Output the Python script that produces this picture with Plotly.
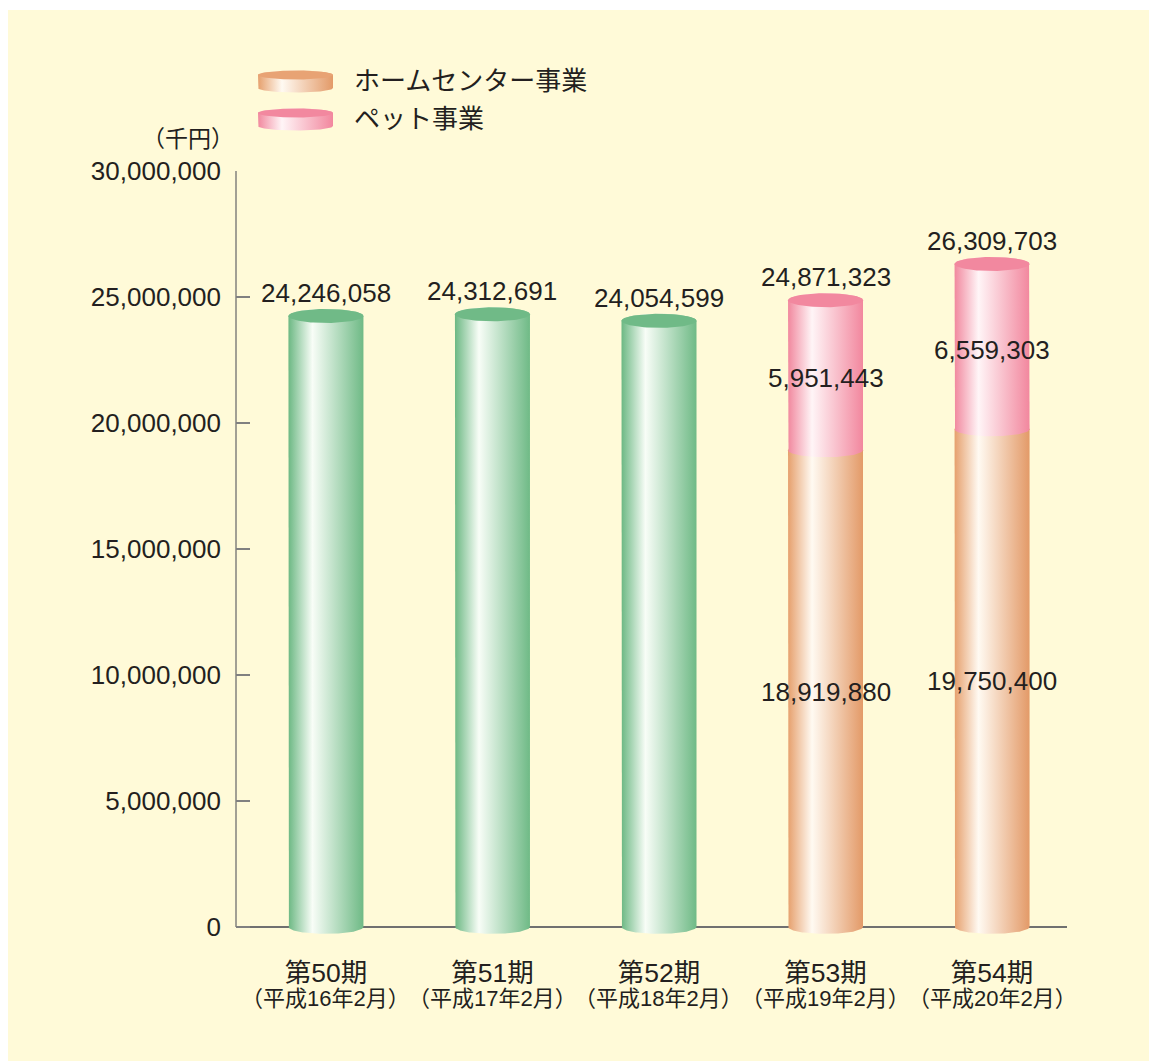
import numpy as np
import plotly.graph_objects as go

# ---------------- data ----------------
periods = ["第50期", "第51期", "第52期", "第53期", "第54期"]
eras = ["（平成16年2月）", "（平成17年2月）", "（平成18年2月）", "（平成19年2月）", "（平成20年2月）"]
total_sales = [24246058, 24312691, 24054599, 24871323, 26309703]
home_center = [None, None, None, 18919880, 19750400]
pet = [None, None, None, 5951443, 6559303]
legend_names = ["ホームセンター事業", "ペット事業"]
y_tick_values = [0, 5000000, 10000000, 15000000, 20000000, 25000000, 30000000]
unit_label = "（千円）"

# ---------------- style ----------------
W, H = 1149, 1061
ML, MR, MT, MB = 236, 82, 10, 119
PLOT_W = W - ML - MR
PLOT_H = H - MT - MB
MAIN_H = 771
Y_MIN, Y_MAX = -600000, 30000000
X_MIN, X_MAX = -0.54, 4.45
px_per_x = PLOT_W / (X_MAX - X_MIN)
px_per_y = MAIN_H / (Y_MAX - Y_MIN)
A = 37.5 / px_per_x          # half bar width (x units)
B = 7.0 / px_per_y           # ellipse half-height (y units)

FONT = "Liberation Sans, Noto Sans CJK JP, sans-serif"
TXT = "#231f20"
BG = "#fffad8"
NUM_SIZE = 26

GREEN = ("#6cb883", "#f8fdf7", "#6fba86")
ORANGE = ("#e6a06d", "#fffaf2", "#e39a68")
PINK = ("#f1889e", "#fff5f7", "#f2879e")
CAP = {"green": "#70ba87", "pink": "#f2889f"}


def grad(c):
    return [[0, c[0]], [0.32, c[1]], [1, c[2]]]


def body(c, y0, y1, a, b, n=60):
    t1 = np.linspace(np.pi, 2 * np.pi, n)
    t2 = np.linspace(0, np.pi, n)
    xs = [c - a] + list(c + a * np.cos(t1)) + [c + a] + list(c + a * np.cos(t2))
    ys = [y1] + list(y0 + b * np.sin(t1)) + [y1] + list(y1 + b * np.sin(t2))
    return xs, ys


def ellipse(c, y, a, b, n=80):
    t = np.linspace(0, 2 * np.pi, n)
    return list(c + a * np.cos(t)), list(y + b * np.sin(t))


fig = go.Figure()


def add_body(c, y0, y1, a, b, colors, xa="x", ya="y"):
    xs, ys = body(c, y0, y1, a, b)
    fig.add_trace(go.Scatter(
        x=xs, y=ys, mode="lines", line=dict(width=0), fill="toself",
        fillgradient=dict(type="horizontal", colorscale=grad(colors), start=c - a, stop=c + a),
        hoverinfo="skip", showlegend=False, xaxis=xa, yaxis=ya))


def add_cap(c, y, a, b, color, xa="x", ya="y"):
    xs, ys = ellipse(c, y, a, b)
    fig.add_trace(go.Scatter(
        x=xs, y=ys, mode="lines", line=dict(width=0), fill="toself", fillcolor=color,
        hoverinfo="skip", showlegend=False, xaxis=xa, yaxis=ya))


annotations = []
for i in range(len(periods)):
    if home_center[i] is None:
        add_body(i, 0, total_sales[i], A, B, GREEN)
        add_cap(i, total_sales[i], A, B, CAP["green"])
    else:
        hc = home_center[i]
        top = hc + pet[i]
        add_body(i, 0, hc, A, B, ORANGE)
        add_body(i, hc, top, A, B, PINK)
        add_cap(i, top, A, B, CAP["pink"])
        annotations.append(dict(x=i, y=hc / 2, xref="x", yref="y", text=f"{hc:,}",
                                showarrow=False, yshift=-3,
                                font=dict(size=NUM_SIZE, color=TXT, family=FONT)))
        annotations.append(dict(x=i, y=hc + pet[i] / 2, xref="x", yref="y", text=f"{pet[i]:,}",
                                showarrow=False, yshift=-3,
                                font=dict(size=NUM_SIZE, color=TXT, family=FONT)))
    annotations.append(dict(x=i, y=total_sales[i], xref="x", yref="y", text=f"{total_sales[i]:,}",
                            showarrow=False, yshift=23, yanchor="middle",
                            font=dict(size=NUM_SIZE, color=TXT, family=FONT)))
    annotations.append(dict(x=i, y=0, xref="x", yref="paper", text=eras[i], showarrow=False,
                            yshift=-(998 - (MT + PLOT_H)), yanchor="middle",
                            font=dict(size=22, color=TXT, family=FONT)))

# ---------------- legend (drawn in pixel-unit overlay axes) ----------------
leg_top_px, leg_bot_px = 60, 140
y2_dom = [(MT + PLOT_H - leg_bot_px) / PLOT_H, (MT + PLOT_H - leg_top_px) / PLOT_H]
leg_colors = [ORANGE, PINK]
leg_caps = ["#e8a374", "#f2889f"]
leg_rows = [(75, 88, 81), (113, 126, 119)]
for k, name in enumerate(legend_names):
    ytop, ybot, ytext = leg_rows[k]
    cx, ax, bx = 295.5, 37.5, 4.5
    xs, ys = body(cx, -ybot, -ytop, ax, bx)
    fig.add_trace(go.Scatter(
        x=xs, y=ys, mode="lines", line=dict(width=0), fill="toself",
        fillgradient=dict(type="horizontal", colorscale=grad(leg_colors[k]), start=cx - ax, stop=cx + ax),
        hoverinfo="skip", showlegend=False, xaxis="x2", yaxis="y2"))
    xs, ys = ellipse(cx, -ytop, ax, bx)
    fig.add_trace(go.Scatter(
        x=xs, y=ys, mode="lines", line=dict(width=0), fill="toself", fillcolor=leg_caps[k],
        hoverinfo="skip", showlegend=False, xaxis="x2", yaxis="y2"))
    annotations.append(dict(x=352, y=-ytext, xref="x2", yref="y2", text=name, showarrow=False,
                            xanchor="left", yanchor="middle",
                            font=dict(size=26, color=TXT, family=FONT)))

annotations.append(dict(x=0, y=Y_MAX, xref="paper", yref="y", text=unit_label,
                        showarrow=False, xanchor="right", yanchor="middle", yshift=32,
                        font=dict(size=23, color=TXT, family=FONT)))

shapes = [
    # y-axis line from 0 to top
    dict(type="line", xref="paper", yref="y", x0=0, x1=0, y0=0, y1=Y_MAX,
         line=dict(color="#707070", width=1.3), layer="below"),
    # white outer strips (top and left)
    dict(type="rect", xref="paper", yref="paper", x0=-ML / PLOT_W - 0.01, x1=(W - ML) / PLOT_W + 0.01,
         y0=1, y1=1 + (MT + 2) / PLOT_H, fillcolor="white", line=dict(width=0)),
    dict(type="rect", xref="paper", yref="paper", x0=-ML / PLOT_W - 0.01, x1=(8 - ML) / PLOT_W,
         y0=-MB / PLOT_H - 0.01, y1=1 + (MT + 2) / PLOT_H, fillcolor="white", line=dict(width=0)),
]

fig.update_layout(
    width=W, height=H,
    margin=dict(l=ML, r=MR, t=MT, b=MB, autoexpand=False),
    paper_bgcolor=BG, plot_bgcolor=BG,
    showlegend=False,
    font=dict(family=FONT, color=TXT),
    xaxis=dict(range=[X_MIN, X_MAX], tickvals=list(range(len(periods))), ticktext=periods,
               showgrid=False, zeroline=False, showline=False, ticks="", automargin=False,
               ticklabelstandoff=12,
               tickfont=dict(size=26.5, color=TXT, family=FONT), fixedrange=True),
    yaxis=dict(range=[Y_MIN, Y_MAX], domain=[0, MAIN_H / PLOT_H], tickvals=y_tick_values,
               ticktext=[f"{v:,}" for v in y_tick_values], automargin=False,
               showgrid=False, zeroline=True, zerolinecolor="#707070", zerolinewidth=1.3,
               showline=False, ticks="inside", ticklen=14, tickcolor="#808080", tickwidth=1.3,
               ticklabelstandoff=14, layer="below traces",
               tickfont=dict(size=NUM_SIZE, color=TXT, family=FONT), fixedrange=True),
    xaxis2=dict(domain=[0, 1], range=[ML, W - MR], anchor="y2", visible=False, fixedrange=True,
                automargin=False),
    yaxis2=dict(domain=y2_dom, range=[-leg_bot_px, -leg_top_px], anchor="x2", visible=False,
                fixedrange=True, automargin=False),
    annotations=annotations,
    shapes=shapes,
)

fig.write_html(
    "out.html",
    config={"displayModeBar": False, "staticPlot": True},
    post_script="document.body.style.margin='0';document.body.style.overflow='hidden';",
)
